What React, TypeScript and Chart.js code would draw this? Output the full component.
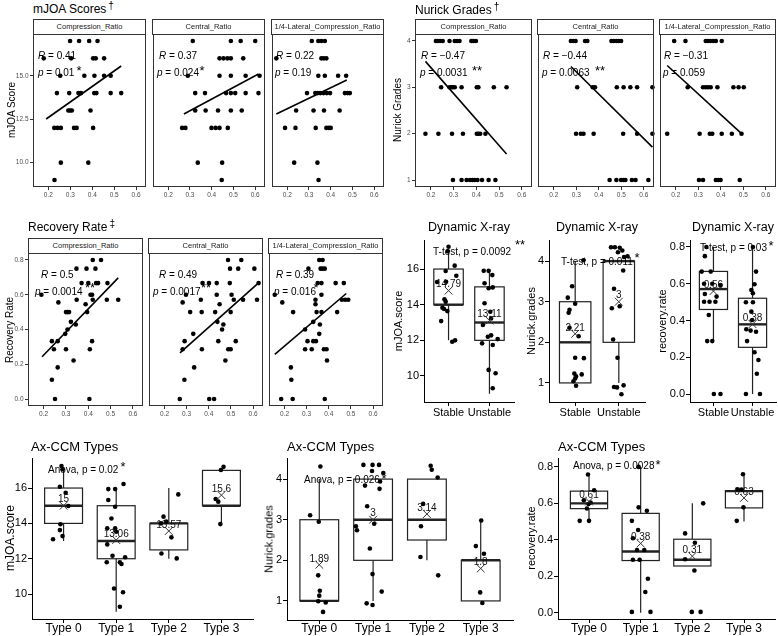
import React, { useEffect, useRef } from "react";
import { Chart, registerables } from "chart.js";
Chart.register(...registerables);

const FONT = '"Liberation Sans", Arial, Helvetica, sans-serif';

// ---------------- Facet scatter data ----------------
const facetNames = ["Compression_Ratio", "Central_Ratio", "1/4-Lateral_Compression_Ratio"];
const ratioTicks = [0.2, 0.3, 0.4, 0.5, 0.6];
const RATIO_MIN = 0.13;
const RATIO_MAX = 0.645;

const mjoaLevels = [17, 16, 15, 14, 13, 12, 10, 9];
const mjoaTicks = [10, 12.5, 15];
const mjoaCompX = [
  [0.299, 0.34, 0.386, 0.424],
  [0.179, 0.304, 0.404, 0.416, 0.454],
  [0.254, 0.364, 0.41, 0.454, 0.484],
  [0.239, 0.295, 0.337, 0.349, 0.409, 0.419, 0.484, 0.532],
  [0.291, 0.299, 0.307, 0.392],
  [0.227, 0.242, 0.257, 0.317, 0.329, 0.404],
  [0.257, 0.382],
  [0.228],
];
const mjoaCentX = [
  [0.313, 0.488, 0.533, 0.6],
  [0.436, 0.454, 0.472, 0.488, 0.545],
  [0.29, 0.436, 0.488, 0.556, 0.62],
  [0.324, 0.369, 0.466, 0.488, 0.508, 0.556, 0.615],
  [0.324, 0.372, 0.429, 0.488, 0.538],
  [0.264, 0.279, 0.399, 0.418, 0.436, 0.474],
  [0.336, 0.448],
  [0.446],
];
const mjoaLatX = [
  [0.313, 0.343, 0.357, 0.373],
  [0.15, 0.357, 0.368, 0.38],
  [0.343, 0.373, 0.434, 0.471],
  [0.291, 0.329, 0.34, 0.352, 0.367, 0.382, 0.397, 0.465, 0.477, 0.488],
  [0.241, 0.321, 0.369, 0.441],
  [0.19, 0.238, 0.331, 0.38, 0.391, 0.4],
  [0.232, 0.339],
  [0.344],
];
const mjoaFits = [
  [0.19, 12.51, 0.532, 15.56],
  [0.272, 12.8, 0.615, 15.1],
  [0.15, 12.8, 0.474, 14.75],
];
const mjoaR = ["0.41", "0.37", "0.22"];
const mjoaP = ["0.01", "0.024", "0.19"];
const mjoaStars = ["*", "*", ""];

const nurickLevels = [4, 3, 2, 1];
const nurickTicks = [1, 2, 3, 4];
const nurickCompX = [
  [0.222, 0.23, 0.241, 0.252, 0.282, 0.305, 0.315, 0.326, 0.378, 0.387, 0.398],
  [0.245, 0.282, 0.29, 0.297, 0.305, 0.335, 0.402, 0.409, 0.477, 0.533],
  [0.176, 0.233, 0.293, 0.341, 0.402, 0.409, 0.417, 0.44],
  [0.297, 0.335, 0.357, 0.372, 0.382, 0.393, 0.405, 0.425, 0.454, 0.484],
];
const nurickCentX = [
  [0.276, 0.287, 0.297, 0.339, 0.349, 0.456, 0.466, 0.478, 0.488, 0.499],
  [0.304, 0.373, 0.383, 0.48, 0.51, 0.54, 0.57, 0.638],
  [0.299, 0.32, 0.332, 0.377, 0.508, 0.57, 0.638],
  [0.448, 0.478, 0.499, 0.51, 0.518, 0.547, 0.563, 0.62],
];
const nurickLatX = [
  [0.193, 0.243, 0.333, 0.343, 0.354, 0.366, 0.378, 0.404],
  [0.253, 0.321, 0.333, 0.343, 0.355, 0.385, 0.456, 0.479, 0.502],
  [0.162, 0.306, 0.351, 0.362, 0.404, 0.449, 0.492],
  [0.303, 0.321, 0.378, 0.389, 0.399, 0.484],
];
const nurickFits = [
  [0.176, 3.56, 0.533, 1.56],
  [0.276, 3.45, 0.638, 1.71],
  [0.162, 3.47, 0.492, 2.0],
];
const nurickR = ["\u22120.47", "\u22120.44", "\u22120.31"];
const nurickP = ["0.0031", "0.0063", "0.059"];
const nurickStars = ["**", "**", ""];

const recTicks = [0, 0.2, 0.4, 0.6, 0.8];
const recCompX = [0.42, 0.457, 0.347, 0.392, 0.432, 0.37, 0.4, 0.435, 0.444, 0.486, 0.19, 0.41, 0.417, 0.348, 0.42, 0.483, 0.534, 0.266, 0.388, 0.3, 0.307, 0.314, 0.395, 0.322, 0.344, 0.307, 0.297, 0.237, 0.263, 0.417, 0.246, 0.3, 0.407, 0.334, 0.263, 0.237, 0.251, 0.405];
const recCompY = [0.8, 0.8, 0.75, 0.75, 0.75, 0.667, 0.667, 0.667, 0.667, 0.667, 0.6, 0.6, 0.6, 0.571, 0.571, 0.571, 0.571, 0.556, 0.545, 0.5, 0.5, 0.5, 0.5, 0.444, 0.429, 0.4, 0.375, 0.333, 0.333, 0.333, 0.286, 0.286, 0.286, 0.222, 0.182, 0.111, 0, 0];
const recCentX = [0.487, 0.547, 0.496, 0.533, 0.606, 0.372, 0.401, 0.436, 0.495, 0.625, 0.297, 0.436, 0.503, 0.364, 0.513, 0.555, 0.618, 0.282, 0.449, 0.316, 0.368, 0.429, 0.499, 0.439, 0.466, 0.46, 0.33, 0.291, 0.443, 0.522, 0.282, 0.369, 0.488, 0.499, 0.475, 0.334, 0.29, 0.269, 0.402, 0.424];
const recCentY = [0.8, 0.8, 0.75, 0.75, 0.75, 0.667, 0.667, 0.667, 0.667, 0.667, 0.6, 0.6, 0.6, 0.571, 0.571, 0.571, 0.571, 0.556, 0.545, 0.5, 0.5, 0.5, 0.5, 0.444, 0.429, 0.4, 0.375, 0.333, 0.333, 0.333, 0.286, 0.286, 0.286, 0.286, 0.222, 0.182, 0.111, 0, 0, 0];
const recLatX = [0.357, 0.372, 0.308, 0.363, 0.372, 0.382, 0.35, 0.367, 0.431, 0.468, 0.156, 0.367, 0.34, 0.459, 0.474, 0.488, 0.19, 0.34, 0.239, 0.345, 0.367, 0.438, 0.33, 0.36, 0.293, 0.357, 0.304, 0.33, 0.342, 0.293, 0.323, 0.378, 0.39, 0.392, 0.229, 0.231, 0.185, 0.237, 0.382];
const recLatY = [0.8, 0.8, 0.75, 0.75, 0.75, 0.75, 0.667, 0.667, 0.667, 0.667, 0.6, 0.6, 0.571, 0.571, 0.571, 0.571, 0.556, 0.545, 0.5, 0.5, 0.5, 0.5, 0.444, 0.429, 0.4, 0.375, 0.333, 0.333, 0.333, 0.286, 0.286, 0.286, 0.286, 0.222, 0.182, 0.111, 0, 0, 0];
const recFits = [
  [0.193, 0.243, 0.534, 0.697],
  [0.27, 0.266, 0.625, 0.668],
  [0.156, 0.257, 0.479, 0.607],
];
const recR = ["0.5", "0.49", "0.39"];
const recP = ["0.0014", "0.0017", "0.016"];
const recStars = ["**", "**", "*"];

// ---------------- Box plot data ----------------
// stats: [q1, median, q3, lowerWhisker, upperWhisker]
const dynCats = ["Stable", "Unstable"];
const typeCats = ["Type 0", "Type 1", "Type 2", "Type 3"];

const dynMjoaStats = [[14, 14, 16, 12, 17], [12, 13, 15, 9, 16]];
const dynMjoaMeans = [14.79, 13.11];
const dynMjoaX = [1.0, 0.98, 1.15, 0.93, 0.72, 0.94, 1.19, 0.9, 0.93, 0.89, 0.97, 0.85, 0.82, 1.09, 1.16, 1.86, 1.98, 2.07, 1.88, 1.98, 2.08, 1.88, 2.02, 2.04, 1.84, 1.96, 2.04, 2.2, 1.82, 2.08, 1.98, 2.15, 2.08];
const dynMjoaY = [17.25, 17.0, 16.19, 15.89, 15.27, 15.29, 15.62, 14.3, 14.17, 13.76, 13.64, 13.83, 13.08, 11.92, 12.0, 15.9, 15.9, 15.66, 15.2, 14.92, 14.97, 14.08, 13.6, 13.23, 12.86, 12.2, 12.28, 12.07, 11.83, 11.74, 10.34, 10.15, 9.31];
const dynMjoaTicks = [10, 12, 14, 16];

const dynNurStats = [[1, 2, 3, 1, 4], [2, 4, 4, 1, 4]];
const dynNurMeans = [2.21, 3];
const dynNurX = [1.19, 0.93, 0.83, 1.0, 0.87, 0.85, 0.87, 1.08, 1.0, 1.2, 0.98, 1.15, 1.02, 1.0, 0.96, 1.02, 1.82, 1.91, 2.02, 2.08, 1.98, 2.12, 2.2, 2.1, 1.89, 1.84, 2.02, 1.87, 1.97, 1.89, 1.96, 2.11, 2.06];
const dynNurY = [4.02, 3.38, 3.1, 2.95, 2.8, 2.73, 2.36, 2.15, 1.62, 1.61, 1.23, 1.21, 1.16, 1.11, 1.04, 0.93, 4.34, 4.34, 4.33, 4.26, 4.22, 4.1, 4.12, 3.77, 3.32, 2.84, 2.89, 2.07, 1.62, 0.9, 0.89, 0.94, 0.72];
const nurTicks = [1, 2, 3, 4];

const dynRecStats = [[0.46, 0.571, 0.667, 0.286, 0.8], [0.254, 0.379, 0.521, 0, 0.8]];
const dynRecMeans = [0.56, 0.38];
const dynRecX = [0.82, 0.78, 0.7, 0.93, 0.76, 0.97, 1.18, 0.78, 1.08, 0.76, 0.9, 1.05, 0.88, 0.84, 0.97, 1.01, 1.18, 2.01, 2.09, 2.05, 1.97, 2.01, 1.83, 2.01, 1.97, 1.99, 1.84, 1.95, 2.09, 1.86, 2.05, 2.15, 2.11, 1.83, 2.19];
const dynRecY = [0.8, 0.75, 0.666, 0.666, 0.6, 0.6, 0.593, 0.544, 0.53, 0.502, 0.502, 0.502, 0.43, 0.288, 0.288, 0, 0, 0.8, 0.666, 0.597, 0.566, 0.548, 0.499, 0.499, 0.448, 0.403, 0.352, 0.345, 0.339, 0.288, 0.227, 0.185, 0.11, 0, 0];

const typeMjoaStats = [[14, 15, 16, 13, 17], [12, 13, 15, 9, 16], [12.5, 14, 14, 12, 16], [15, 15, 17, 14, 17]];
const typeMjoaMeans = [15, 13.06, 13.57, 15.6];
const typeMjoaX = [0.96, 0.98, 0.93, 1.04, 1.09, 0.94, 0.93, 0.98, 0.8, 1.85, 1.98, 2.14, 1.85, 1.98, 1.91, 1.83, 1.98, 2.0, 1.83, 1.93, 2.17, 1.82, 2.07, 2.1, 1.96, 2.13, 2.07, 2.9, 2.85, 2.95, 3.18, 3.05, 2.86, 3.15, 4.04, 3.99, 3.89, 3.94, 3.98];
const typeMjoaY = [17.25, 17.06, 16.07, 15.73, 14.98, 13.95, 13.62, 13.28, 13.1, 15.94, 15.94, 16.23, 15.32, 14.94, 14.28, 13.72, 13.72, 13.53, 12.81, 12.17, 12.08, 11.8, 11.8, 11.7, 10.32, 10.1, 9.28, 14.38, 14.0, 14.1, 15.64, 13.21, 12.3, 12.02, 17.2, 17.02, 15.38, 15.23, 13.96];

const typeNurStats = [[1, 1, 3, 1, 4], [2, 3, 4, 1, 4], [2.5, 3, 4, 2, 4], [1, 2, 2, 1, 3]];
const typeNurMeans = [1.89, 3, 3.14, 1.8];
const typeNurX = [1.02, 0.83, 0.99, 0.98, 1.01, 1.0, 0.98, 1.12, 1.07, 1.82, 1.99, 2.11, 1.98, 2.19, 2.13, 1.85, 2.12, 1.89, 1.68, 1.7, 2.02, 1.94, 1.99, 2.16, 1.88, 1.99, 3.07, 3.09, 3.2, 2.93, 2.89, 2.88, 3.21, 4.01, 3.91, 4.06, 3.99, 4.03];
const typeNurY = [4.31, 3.11, 2.95, 1.63, 1.25, 1.13, 0.99, 0.96, 0.73, 4.35, 4.35, 4.35, 4.2, 4.15, 3.94, 3.84, 3.76, 3.33, 2.84, 2.74, 2.9, 2.29, 1.66, 1.23, 0.94, 0.9, 4.33, 4.23, 4.04, 3.39, 2.84, 2.08, 1.63, 2.98, 2.35, 2.16, 1.21, 0.95];

const typeRecStats = [[0.571, 0.6, 0.667, 0.5, 0.75], [0.286, 0.336, 0.545, 0, 0.8], [0.256, 0.29, 0.403, 0.256, 0.6], [0.575, 0.667, 0.67, 0.5, 0.75]];
const typeRecMeans = [0.61, 0.38, 0.31, 0.63];
const typeRecX = [0.98, 1.1, 0.9, 1.03, 0.99, 0.96, 0.82, 1.0, 1.96, 1.96, 2.12, 1.83, 1.95, 1.85, 1.93, 2.07, 1.85, 1.98, 2.14, 2.09, 1.83, 2.19, 2.86, 3.05, 3.21, 2.86, 3.04, 2.99, 3.16, 3.98, 3.88, 3.95, 3.99, 3.86];
const typeRecY = [0.758, 0.672, 0.617, 0.605, 0.596, 0.572, 0.504, 0.504, 0.8, 0.578, 0.559, 0.504, 0.454, 0.408, 0.344, 0.344, 0.29, 0.29, 0.186, 0.113, 0.004, 0.004, 0.435, 0.384, 0.6, 0.293, 0.231, 0.004, 0.004, 0.76, 0.676, 0.676, 0.578, 0.504];

// ---------------- helpers ----------------
type Pt = { x: number; y: number };
const zipPts = (xs: number[], ys: number[]): Pt[] => xs.map((x, i) => ({ x, y: ys[i] }));
const levelPts = (levels: number[], xs: number[][]): Pt[] =>
  levels.flatMap((lv, i) => xs[i].map((x) => ({ x, y: lv })));

interface PanelCfg {
  L: number; T: number; R: number; B: number;
  ml: number; mb: number;
  xMin: number; xMax: number; yMin: number; yMax: number;
  xTicks: number[]; xFmt: (v: number) => string;
  yTicks: number[] | null; yFmt: (v: number) => string;
  tickSize: number; xTickSize?: number; tickColor: string; tickLen: number; tickPad: number; xTickPad?: number;
  frame: boolean;
  datasets: any[];
  boxes?: number[][];
  means?: number[];
  meanSize?: number;
}

const MT = 8;
const MR = 8;
const BOXW = 0.72;

function makePlugin(c: PanelCfg) {
  return {
    id: "customDraw",
    beforeDatasetsDraw(chart: any) {
      if (!c.boxes) return;
      const { ctx } = chart;
      const xs = chart.scales.x;
      const ys = chart.scales.y;
      ctx.save();
      c.boxes.forEach((b, i) => {
        const cx = i + 1;
        const [q1, med, q3, lo, hi] = b;
        const xl = xs.getPixelForValue(cx - BOXW / 2);
        const xr = xs.getPixelForValue(cx + BOXW / 2);
        const xc = xs.getPixelForValue(cx);
        ctx.strokeStyle = "#222";
        ctx.lineWidth = 1.2;
        ctx.beginPath();
        ctx.moveTo(xc, ys.getPixelForValue(q3));
        ctx.lineTo(xc, ys.getPixelForValue(hi));
        ctx.moveTo(xc, ys.getPixelForValue(q1));
        ctx.lineTo(xc, ys.getPixelForValue(lo));
        ctx.stroke();
        const yt = ys.getPixelForValue(q3);
        const yb = ys.getPixelForValue(q1);
        ctx.fillStyle = "#fff";
        ctx.fillRect(xl, yt, xr - xl, yb - yt);
        ctx.strokeRect(xl, yt, xr - xl, yb - yt);
        ctx.lineWidth = 2.4;
        const ym = ys.getPixelForValue(med);
        ctx.beginPath();
        ctx.moveTo(xl, ym);
        ctx.lineTo(xr, ym);
        ctx.stroke();
      });
      ctx.restore();
    },
    afterDatasetsDraw(chart: any) {
      const { ctx, chartArea } = chart;
      const xs = chart.scales.x;
      const ys = chart.scales.y;
      ctx.save();
      if (c.means) {
        ctx.fillStyle = "#111";
        ctx.font = `${c.meanSize || 10}px ${FONT}`;
        ctx.textAlign = "center";
        ctx.textBaseline = "middle";
        c.means.forEach((m, i) => {
          ctx.fillText(String(m), xs.getPixelForValue(i + 1), ys.getPixelForValue(m) - 6);
        });
      }
      if (c.frame) {
        ctx.strokeStyle = "#333";
        ctx.lineWidth = 1;
        const l = Math.round(chartArea.left) + 0.5;
        const t = Math.round(chartArea.top) + 0.5;
        const r = Math.round(chartArea.right) - 0.5;
        const bt = Math.round(chartArea.bottom) - 0.5;
        ctx.strokeRect(l, t, r - l, bt - t);
      }
      ctx.restore();
    },
  };
}

function buildConfig(c: PanelCfg) {
  const axisColor = c.frame ? "#333333" : "#000000";
  const showY = !!c.yTicks;
  return {
    type: "scatter",
    data: { datasets: c.datasets },
    options: {
      animation: false,
      responsive: false,
      maintainAspectRatio: false,
      devicePixelRatio: 1,
      events: [],
      layout: { padding: { top: MT, right: MR, left: 0, bottom: 0 } },
      plugins: { legend: { display: false }, tooltip: { enabled: false }, title: { display: false } },
      scales: {
        x: {
          type: "linear",
          bounds: "data",
          min: c.xMin,
          max: c.xMax,
          offset: false,
          afterBuildTicks: (s: any) => {
            s.ticks = c.xTicks.map((v) => ({ value: v }));
          },
          afterFit: (s: any) => {
            s.height = c.mb;
            s.paddingLeft = 0;
            s.paddingRight = 0;
          },
          ticks: {
            callback: (v: any) => c.xFmt(Number(v)),
            font: { family: FONT, size: c.xTickSize || c.tickSize },
            color: c.tickColor,
            padding: c.xTickPad ?? c.tickPad,
            maxRotation: 0,
            minRotation: 0,
            autoSkip: false,
          },
          grid: { display: true, drawOnChartArea: false, drawTicks: true, tickLength: c.tickLen, color: axisColor, lineWidth: 1 },
          border: { display: !c.frame, color: "#000", width: 1 },
        },
        y: {
          type: "linear",
          bounds: "data",
          min: c.yMin,
          max: c.yMax,
          afterBuildTicks: (s: any) => {
            s.ticks = (c.yTicks || []).map((v) => ({ value: v }));
          },
          afterFit: (s: any) => {
            s.width = c.ml;
            s.paddingTop = 0;
            s.paddingBottom = 0;
          },
          ticks: {
            display: showY,
            callback: (v: any) => c.yFmt(Number(v)),
            font: { family: FONT, size: c.tickSize },
            color: c.tickColor,
            padding: c.tickPad,
            autoSkip: false,
          },
          grid: { display: showY, drawOnChartArea: false, drawTicks: true, tickLength: c.tickLen, color: axisColor, lineWidth: 1 },
          border: { display: !c.frame, color: "#000", width: 1 },
        },
      },
    },
    plugins: [makePlugin(c)],
  };
}

function Panel({ cfg }: { cfg: PanelCfg }) {
  const ref = useRef<HTMLCanvasElement | null>(null);
  const w = cfg.R - cfg.L + cfg.ml + MR;
  const h = cfg.B - cfg.T + cfg.mb + MT;
  useEffect(() => {
    const chart = new Chart(ref.current as any, buildConfig(cfg) as any);
    return () => chart.destroy();
  }, []);
  return (
    <canvas
      ref={ref}
      width={w}
      height={h}
      style={{ position: "absolute", left: cfg.L - cfg.ml, top: cfg.T - MT, width: w, height: h }}
    />
  );
}

function facet(L: number, R: number, T: number, B: number, yMin: number, yMax: number, yTicks: number[], yFmt: (v: number) => string, showY: boolean, pts: Pt[], fit: number[]): PanelCfg {
  return {
    L, T, R, B,
    ml: showY ? 30 : 3,
    mb: 14,
    xMin: RATIO_MIN, xMax: RATIO_MAX, yMin, yMax,
    xTicks: ratioTicks, xFmt: (v) => v.toFixed(1),
    yTicks: showY ? yTicks : null, yFmt,
    tickSize: 6.5, tickColor: "#4d4d4d", tickLen: 3, tickPad: 1.5,
    frame: true,
    datasets: [
      { data: [{ x: fit[0], y: fit[1] }, { x: fit[2], y: fit[3] }], showLine: true, borderColor: "#000", borderWidth: 1.6, pointRadius: 0, clip: false },
      { data: pts, pointRadius: 2.3, pointBackgroundColor: "#000", pointBorderWidth: 0, showLine: false, clip: false },
    ],
  };
}

function boxPanel(L: number, R: number, T: number, B: number, yMin: number, yMax: number, yTicks: number[], yFmt: (v: number) => string, cats: string[], stats: number[][], means: number[], px: number[], py: number[], tickSize: number, xTickSize: number, xTickPad: number): PanelCfg {
  return {
    L, T, R, B,
    ml: 30, mb: 17,
    xMin: 0.4, xMax: cats.length + 0.6, yMin, yMax,
    xTicks: cats.map((_, i) => i + 1),
    xFmt: (v) => cats[Math.round(v) - 1] ?? "",
    yTicks, yFmt,
    tickSize, xTickSize, tickColor: "#000", tickLen: 4, tickPad: 1, xTickPad,
    frame: false,
    boxes: stats, means, meanSize: 10,
    datasets: [
      { data: means.map((m, i) => ({ x: i + 1, y: m })), pointStyle: "crossRot", pointRadius: 5.5, pointBorderColor: "#333", pointBorderWidth: 1, pointBackgroundColor: "rgba(0,0,0,0)", showLine: false, clip: false },
      { data: zipPts(px, py), pointRadius: 2.3, pointBackgroundColor: "#000", pointBorderWidth: 0, showLine: false, clip: false },
    ],
  };
}

const f1 = (v: number) => v.toFixed(1);
const f0 = (v: number) => String(v);

// ---------------- layout ----------------
const mjoaCols = [[33, 146], [152, 265], [271, 384]];
const nurCols = [[415, 532], [537, 654], [659, 776]];
const recCols = [[28, 143], [148, 263], [268, 383]];

const mjoaSets = [mjoaCompX, mjoaCentX, mjoaLatX];
const nurSets = [nurickCompX, nurickCentX, nurickLatX];
const recSetsX = [recCompX, recCentX, recLatX];
const recSetsY = [recCompY, recCentY, recLatY];

const panels: PanelCfg[] = [
  ...mjoaCols.map((c, i) => facet(c[0], c[1], 34, 187, 8.6, 17.4, mjoaTicks, f1, i === 0, levelPts(mjoaLevels, mjoaSets[i]), mjoaFits[i])),
  ...nurCols.map((c, i) => facet(c[0], c[1], 34, 187, 0.85, 4.15, nurickTicks, f0, i === 0, levelPts(nurickLevels, nurSets[i]), nurickFits[i])),
  ...recCols.map((c, i) => facet(c[0], c[1], 253, 406, -0.04, 0.84, recTicks, f1, i === 0, zipPts(recSetsX[i], recSetsY[i]), recFits[i])),
  boxPanel(424, 514, 240, 402, 8.54, 17.63, dynMjoaTicks, f0, dynCats, dynMjoaStats, dynMjoaMeans, dynMjoaX, dynMjoaY, 11, 11, 0),
  boxPanel(549, 645, 240, 402, 0.53, 4.52, nurTicks, f0, dynCats, dynNurStats, dynNurMeans, dynNurX, dynNurY, 11, 11, 0),
  boxPanel(690, 776, 240, 402, -0.0435, 0.838, recTicks, f1, dynCats, dynRecStats, dynRecMeans, dynRecX, dynRecY, 11, 11, 0),
  boxPanel(32, 253, 458, 619, 8.59, 17.7, dynMjoaTicks, f0, typeCats, typeMjoaStats, typeMjoaMeans, typeMjoaX, typeMjoaY, 11, 12, -2),
  boxPanel(287, 513, 458, 620, 0.53, 4.52, nurTicks, f0, typeCats, typeNurStats, typeNurMeans, typeNurX, typeNurY, 11, 12, -3),
  boxPanel(558, 775, 458, 619, -0.035, 0.849, recTicks, f1, typeCats, typeRecStats, typeRecMeans, typeRecX, typeRecY, 11, 12, -2),
];

// ---------------- text helpers ----------------
function Txt({ x, y, size, children, center = false, rot = false, color = "#000" }: any) {
  const tr = rot ? "translate(-50%,-50%) rotate(-90deg)" : center ? "translate(-50%,-50%)" : "translate(0,-50%)";
  return (
    <div
      style={{
        position: "absolute", left: x, top: y, transform: tr, fontSize: size, fontFamily: FONT,
        lineHeight: 1, whiteSpace: "nowrap", color,
      }}
    >
      {children}
    </div>
  );
}

function Strip({ L, R, T, label }: { L: number; R: number; T: number; label: string }) {
  return (
    <div
      style={{
        position: "absolute", left: L, top: T, width: R - L, height: 16, boxSizing: "border-box",
        border: "1px solid #333", background: "#fff", fontFamily: FONT, fontSize: 7.5, color: "#1a1a1a",
        textAlign: "center", lineHeight: "14px", overflow: "hidden", whiteSpace: "nowrap",
      }}
    >
      {label}
    </div>
  );
}

function Star({ x, y, s, size = 13 }: any) {
  return <Txt x={x} y={y + 4} size={size} center>{s}</Txt>;
}

function GroupTitle({ x, y, text, mark }: any) {
  return (
    <Txt x={x} y={y} size={12}>
      {text}
      <span style={{ fontSize: 10, position: "relative", top: -4, marginLeft: 2 }}>{mark}</span>
    </Txt>
  );
}

function RP({ x1, x2, yR, yP, r, p }: any) {
  return (
    <>
      <Txt x={x1} y={yR} size={10}><i>R</i> = {r}</Txt>
      <Txt x={x2} y={yP} size={10}><i>p</i> = {p}</Txt>
    </>
  );
}

export default function App() {
  return (
    <div style={{ position: "fixed", left: 0, top: 0, width: 778, height: 636, background: "#fff", overflow: "hidden" }}>
      {panels.map((p, i) => <Panel key={i} cfg={p} />)}

      {mjoaCols.map((c, i) => <Strip key={"sm" + i} L={c[0]} R={c[1]} T={19} label={facetNames[i]} />)}
      {nurCols.map((c, i) => <Strip key={"sn" + i} L={c[0]} R={c[1]} T={19} label={facetNames[i]} />)}
      {recCols.map((c, i) => <Strip key={"sr" + i} L={c[0]} R={c[1]} T={238} label={facetNames[i]} />)}

      <GroupTitle x={33} y={9} text="mJOA Scores" mark={"\u2020"} />
      <GroupTitle x={415} y={10} text="Nurick Grades" mark={"\u2020"} />
      <GroupTitle x={28} y={227} text="Recovery Rate" mark={"\u2021"} />

      <Txt x={12} y={110} size={10} rot>mJOA Score</Txt>
      <Txt x={398} y={110} size={10} rot>Nurick Grades</Txt>
      <Txt x={10} y={330} size={10} rot>Recovery Rate</Txt>

      <RP x1={38} x2={38} yR={56} yP={73} r={mjoaR[0]} p={mjoaP[0]} />
      <RP x1={159} x2={157} yR={56} yP={73} r={mjoaR[1]} p={mjoaP[1]} />
      <RP x1={276} x2={275} yR={56} yP={73} r={mjoaR[2]} p={mjoaP[2]} />
      <Star x={79} y={66} s={mjoaStars[0]} />
      <Star x={202} y={66} s={mjoaStars[1]} />

      <RP x1={421} x2={420} yR={56} yP={73} r={nurickR[0]} p={nurickP[0]} />
      <RP x1={543} x2={542} yR={56} yP={73} r={nurickR[1]} p={nurickP[1]} />
      <RP x1={664} x2={663} yR={56} yP={73} r={nurickR[2]} p={nurickP[2]} />
      <Star x={477} y={66} s={nurickStars[0]} />
      <Star x={600} y={66} s={nurickStars[1]} />

      <RP x1={41} x2={35} yR={275} yP={292} r={recR[0]} p={recP[0]} />
      <RP x1={159} x2={153} yR={275} yP={292} r={recR[1]} p={recP[1]} />
      <RP x1={276} x2={274} yR={275} yP={292} r={recR[2]} p={recP[2]} />
      <Star x={90} y={283} s={recStars[0]} />
      <Star x={206} y={283} s={recStars[1]} />
      <Star x={316} y={283} s={recStars[2]} />

      <Txt x={469} y={227} size={12.5} center>Dynamic X-ray</Txt>
      <Txt x={597} y={227} size={12.5} center>Dynamic X-ray</Txt>
      <Txt x={733} y={227} size={12.5} center>Dynamic X-ray</Txt>
      <Txt x={31} y={446} size={13}>Ax-CCM Types</Txt>
      <Txt x={287} y={446} size={13}>Ax-CCM Types</Txt>
      <Txt x={558} y={446} size={13}>Ax-CCM Types</Txt>

      <Txt x={398} y={321} size={11} rot>mJOA.score</Txt>
      <Txt x={531} y={321} size={11} rot>Nurick.grades</Txt>
      <Txt x={662} y={321} size={11} rot>recovery.rate</Txt>
      <Txt x={10} y={538} size={12} rot>mJOA.score</Txt>
      <Txt x={269} y={539} size={11} rot>Nurick.grades</Txt>
      <Txt x={531} y={538} size={11} rot>recovery.rate</Txt>

      <Txt x={433} y={252} size={10}>T-test, p = 0.0092</Txt>
      <Star x={520} y={240} s="**" />
      <Txt x={561} y={262} size={10}>T-test, p = 0.011</Txt>
      <Star x={637} y={253} s="*" />
      <Txt x={700} y={248} size={10}>T-test, p = 0.03</Txt>
      <Star x={771} y={241} s="*" />
      <Txt x={48} y={470} size={10}>Anova, p = 0.02</Txt>
      <Star x={123} y={462} s="*" />
      <Txt x={304} y={480} size={10}>Anova, p = 0.026</Txt>
      <Star x={384} y={474} s="*" />
      <Txt x={573} y={466} size={10}>Anova, p = 0.0028</Txt>
      <Star x={658} y={460} s="*" />
    </div>
  );
}
